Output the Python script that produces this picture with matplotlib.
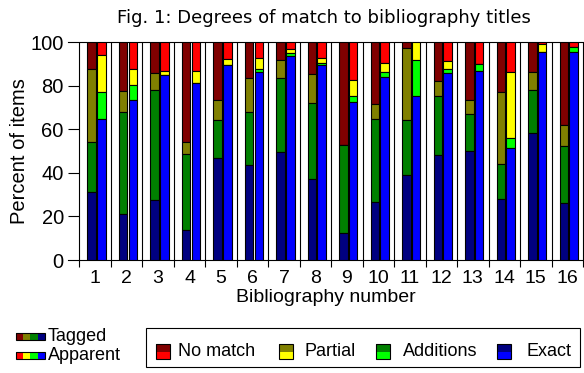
import numpy as np
import matplotlib.pyplot as plt
from matplotlib.patches import Rectangle

plt.rcParams['font.family'] = ['Liberation Sans', 'DejaVu Sans']

groups = [str(i) for i in range(1, 17)]
categories = ["No match", "Partial", "Additions", "Exact"]

# cumulative tops (exact, +additions, +partial); no match fills to 100
tag_exact = [31.1, 21.1, 27.4, 13.6, 46.7, 43.5, 49.5, 37.1, 12.3, 26.5, 38.9, 48.1, 49.9, 27.9, 58.2, 26.0]
tag_add   = [54.1, 67.8, 77.9, 48.5, 64.2, 67.8, 83.5, 72.0, 52.7, 64.6, 64.2, 75.2, 66.9, 44.0, 77.9, 52.2]
tag_part  = [87.6, 77.5, 85.8, 54.1, 73.4, 83.5, 91.7, 85.3, 52.7, 71.5, 97.2, 82.1, 73.4, 77.0, 86.2, 61.9]

app_exact = [64.6, 73.4, 84.8, 81.2, 89.4, 86.2, 93.6, 89.4, 72.4, 83.9, 75.2, 85.8, 86.7, 51.3, 95.4, 95.4]
app_add   = [77.0, 80.2, 84.8, 81.2, 89.4, 87.6, 94.9, 90.4, 75.2, 86.2, 91.7, 87.6, 89.9, 55.9, 95.4, 97.7]
app_part  = [94.0, 87.6, 86.7, 86.7, 92.2, 92.6, 96.8, 92.6, 82.5, 90.4, 100.0, 91.3, 89.9, 86.2, 99.1, 97.7]

dark = ["#800000", "#808000", "#008000", "#000080"]
bright = ["#ff0000", "#ffff00", "#00ff00", "#0000ff"]

W, H = 584, 373
fig = plt.figure(figsize=(W / 100, H / 100), dpi=100)
ax = fig.add_axes([68 / W, (H - 260) / H, (W - 68) / W, 218 / H])

x = np.arange(len(groups))
bw = 0.27
lw = 0.8


def stack(pos, exact, add, part, cols):
    exact = np.array(exact)
    add = np.array(add)
    part = np.array(part)
    segs = [(100 - part, part), (part - add, add), (add - exact, exact), (exact, 0)]
    for (h, b), c in zip(segs, cols):
        ax.bar(pos, h, bottom=b, width=bw, color=c, edgecolor="black", linewidth=lw, zorder=3)


stack(x + 0.39, tag_exact, tag_add, tag_part, dark)
stack(x + 0.70, app_exact, app_add, app_part, bright)

ax.set_xlim(-0.36, 16.03)
ax.set_ylim(0, 100)
for s in ["left", "right"]:
    ax.spines[s].set_visible(False)
for s in ["top", "bottom"]:
    ax.spines[s].set_linewidth(lw)

ax.vlines(np.arange(17), 0, 100, color="black", linewidth=lw, zorder=1)
ax.hlines([20, 40, 60, 80], -0.36, 0, color="black", linewidth=lw)

ax.set_xticks(np.arange(17))
ax.set_xticklabels([])
ax.set_xticks(x + 0.5, minor=True)
ax.set_xticklabels(groups, minor=True, fontsize=14)
ax.tick_params(axis="x", which="major", direction="out", length=5, width=lw)
ax.tick_params(axis="x", which="minor", length=0, pad=7)
ax.set_yticks([0, 20, 40, 60, 80, 100])
ax.tick_params(axis="y", length=0, pad=3, labelsize=14.5)

ax.set_xlabel("Bibliography number", fontsize=14, labelpad=2)
ax.set_ylabel("Percent of items", fontsize=14.5, labelpad=1)
fig.text(324 / W, 1 - 18 / H, "Fig. 1: Degrees of match to bibliography titles",
         fontsize=13, family="DejaVu Sans", ha="center", va="center")


def px(xp, yp):
    return xp / W, 1 - yp / H


def frect(x0, y0, w, h, c):
    fx, fy = px(x0, y0 + h)
    fig.add_artist(Rectangle((fx, fy), w / W, h / H, facecolor=c, edgecolor="none",
                             transform=fig.transFigure))


def fbox(x0, y0, w, h):
    fx, fy = px(x0, y0 + h)
    fig.add_artist(Rectangle((fx, fy), w / W, h / H, facecolor="none", edgecolor="black",
                             linewidth=lw, transform=fig.transFigure))


# series key (left)
for row, (cols, name, yy) in enumerate([(dark, "Tagged", 333), (bright, "Apparent", 352)]):
    for i, c in enumerate(cols):
        frect(16 + i * 7.2, yy, 7.2, 6.5, c)
    fbox(16, yy, 28.8, 6.5)
    fig.text(*px(48, yy + 3.5), name, fontsize=13, va="center", ha="left")

# category legend box
fbox(146, 328, 434, 39)
sq_x = [156, 279, 376, 497]
tx_x = [178, 304, 403, 527]
for k in range(4):
    frect(sq_x[k], 344, 14, 7.5, dark[k])
    frect(sq_x[k], 351.5, 14, 7.5, bright[k])
    fbox(sq_x[k], 344, 14, 15)
    fig.text(*px(tx_x[k], 351.5), categories[k], fontsize=13, va="center", ha="left")

fig.savefig("out.png", dpi=100)
